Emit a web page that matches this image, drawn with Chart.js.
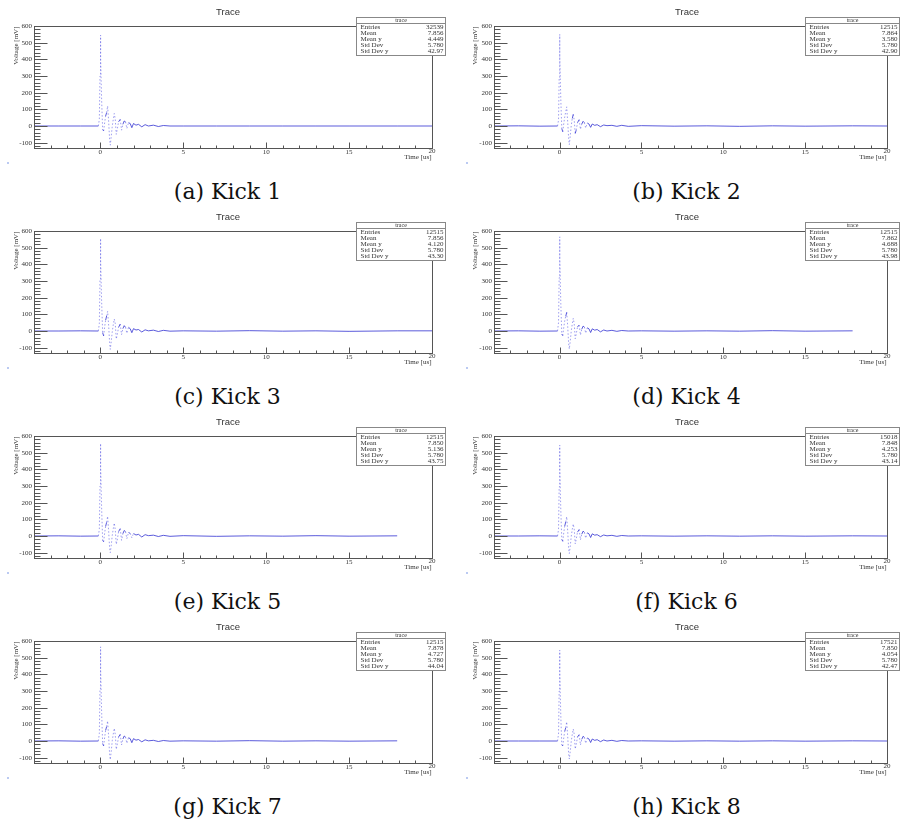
<!DOCTYPE html>
<html>
<head>
<meta charset="utf-8">
<script src="https://cdn.jsdelivr.net/npm/chart.js@4.4.1/dist/chart.umd.min.js"></script>
<style>
  body { margin: 0; background: #fff; width: 902px; height: 821px; position: relative; overflow: hidden; }
  canvas.panel { position: absolute; }
  .caption { position: absolute; width: 455px; text-align: center; font-family: "DejaVu Serif", serif; font-size: 22px; color: #111; line-height: 24px; }
</style>
</head>
<body>
<script>
// sample times [us], shared by all kicks
const time = [-4, -2.5, -1.2, -0.12, -0.06, -0.02, 0, 0.03, 0.08, 0.14, 0.2, 0.26, 0.32, 0.38, 0.44, 0.5,
  0.56, 0.6, 0.66, 0.72, 0.78, 0.84, 0.9, 0.96, 1.02, 1.1, 1.2, 1.28, 1.36, 1.44, 1.52, 1.6, 1.7, 1.8, 1.9,
  2.0, 2.15, 2.3, 2.5, 2.7, 2.9, 3.2, 3.5, 3.8, 4.2, 5, 7, 9, 11, 13, 15, 17.9, 20];

// voltages [mV] per kick
const kick1 = [0, 0, 0, 0, 40, 300, 545, 400, 150, -20, -30, 20, 60, 80, 120, 30, -80, -115, -60, 0, 40, 75, 40, -50, -20,
  25, 40, -25, 10, 30, 25, -15, 20, 15, -10, 15, 5, 10, -5, 8, 0, 5, -3, 3, 0, 0, 0, 0, 0, 0, 0, 0, 0];
const kick2 = [0, 1, -1, 0, 35, 290, 550, 410, 160, -15, -35, 15, 55, 85, 115, 25, -75, -112, -55, 5, 45, 70, 35, -45, -25,
  20, 38, -20, 12, 28, 20, -12, 18, 12, -8, 12, 4, 8, -4, 6, 2, 4, -2, 4, -2, 2, -1, 1, -2, 1, -1, 1, 0];
const kick3 = [0, 0, 1, 0, 45, 310, 555, 420, 170, -10, -30, 25, 65, 90, 118, 35, -70, -110, -60, -5, 38, 72, 45, -48, -22,
  22, 42, -22, 14, 32, 22, -14, 22, 14, -10, 14, 6, 9, -6, 7, 1, 5, -3, 4, -1, 1, -1, 2, -1, 1, -2, 1, 1];
const kick4 = [0, 1, -1, 0, 50, 320, 565, 430, 165, -18, -28, 22, 62, 88, 112, 28, -78, -108, -58, 2, 42, 76, 42, -46, -18,
  24, 36, -24, 11, 29, 24, -13, 19, 13, -9, 13, 5, 9, -5, 6, 0, 4, -2, 3, 0, 1, -1, 1, -1, 2, -1, 1, null];
const kick5 = [0, 1, -1, 0, 40, 300, 555, 415, 160, -25, -35, 18, 58, 82, 118, 32, -72, -100, -55, 4, 44, 78, 38, -50, -24,
  26, 44, -26, 14, 33, 26, -16, 21, 16, -11, 15, 6, 10, -6, 8, 2, 5, -3, 4, -2, 2, -2, 1, -1, 2, -1, 1, null];
const kick6 = [0, 0, 1, 0, 38, 295, 545, 405, 155, -20, -32, 20, 60, 84, 116, 30, -76, -105, -58, 0, 40, 72, 40, -47, -20,
  23, 39, -23, 11, 29, 22, -13, 19, 13, -9, 13, 5, 8, -4, 6, 1, 4, -2, 3, 0, 1, -1, 1, -1, 1, -1, 1, 0];
const kick7 = [0, 1, -1, 0, 45, 315, 565, 425, 165, -15, -30, 22, 64, 86, 120, 28, -80, -112, -60, 2, 42, 76, 40, -50, -22,
  24, 40, -24, 12, 30, 24, -14, 20, 14, -10, 14, 5, 9, -5, 7, 1, 4, -3, 3, -1, 1, -1, 2, -1, 1, -1, 1, null];
const kick8 = [0, 0, 0, 0, 42, 300, 545, 405, 150, -22, -30, 20, 58, 80, 115, 28, -78, -108, -58, 0, 40, 72, 40, -48, -20,
  24, 38, -24, 10, 28, 22, -14, 18, 12, -9, 12, 4, 8, -4, 6, 0, 4, -2, 3, 0, 1, -1, 1, -1, 1, -1, 1, 0];

const kicks = [kick1, kick2, kick3, kick4, kick5, kick6, kick7, kick8];
const captions = ['(a) Kick 1', '(b) Kick 2', '(c) Kick 3', '(d) Kick 4', '(e) Kick 5', '(f) Kick 6', '(g) Kick 7', '(h) Kick 8'];

// stats box contents
const statEntries = ['32539', '12515', '12515', '12515', '12515', '15018', '12515', '17521'];
const statMean = ['7.856', '7.864', '7.856', '7.862', '7.850', '7.848', '7.878', '7.850'];
const statMeanY = ['4.449', '3.580', '4.120', '4.688', '5.136', '4.253', '4.727', '4.054'];
const statStd = ['5.780', '5.780', '5.780', '5.780', '5.780', '5.780', '5.780', '5.780'];
const statStdY = ['42.97', '42.90', '43.30', '43.98', '43.75', '43.14', '44.04', '42.47'];
const statNames = ['Entries', 'Mean', 'Mean y', 'Std Dev', 'Std Dev y'];

const xTicks = [0, 5, 10, 15, 20];
const yTicks = [-100, 0, 100, 200, 300, 400, 500, 600];

const W = 455, H = 170;
const colX = [0, 459];
const rowY = [0, 205, 410, 615];
// per column: y-axis width, right padding, stats box left offset from chart right, box width
const colGeom = [
  { yw: 34, padR: 23, boxOff: 76, boxW: 89 },
  { yw: 35, padR: 27, boxOff: 82, boxW: 94 }
];

const axisColor = '#555';
const textColor = '#333';
const serif = '"Liberation Serif", "Times New Roman", serif';

// ROOT-style frame, inward ticks, titles and stats box
const rootFrame = {
  id: 'rootFrame',
  afterDatasetsDraw(chart, args, opts) {
    const { ctx, chartArea: a, scales: { x, y } } = chart;
    const L = Math.round(a.left) + 0.5, R = Math.round(a.right) + 0.5;
    const T = Math.round(a.top) + 0.5, B = Math.round(a.bottom) + 0.5;
    ctx.save();
    ctx.strokeStyle = axisColor;
    ctx.lineWidth = 1;
    ctx.strokeRect(L, T, R - L, B - T);

    ctx.beginPath();
    for (let v = -120; v <= 600; v += 20) {
      const py = Math.round(y.getPixelForValue(v)) + 0.5;
      const len = v % 100 === 0 ? 13 : 6;
      ctx.moveTo(L, py); ctx.lineTo(L + len, py);
    }
    for (let v = -4; v <= 20; v += 1) {
      const px = Math.round(x.getPixelForValue(v)) + 0.5;
      const len = v % 5 === 0 ? 6 : 3;
      ctx.moveTo(px, B); ctx.lineTo(px, B - len);
    }
    ctx.stroke();

    // x tick labels under the frame
    ctx.fillStyle = textColor;
    ctx.font = '7px ' + serif;
    ctx.textAlign = 'center';
    ctx.textBaseline = 'middle';
    xTicks.forEach(v => {
      const ly = v === 20 ? B + 2.5 : B + 4;
      ctx.fillText(String(v), x.getPixelForValue(v), ly);
    });

    // titles
    ctx.font = '9.5px "Liberation Sans", Arial, sans-serif';
    ctx.fillText('Trace', 228, 12);

    ctx.font = '7px ' + serif;
    ctx.textAlign = 'right';
    ctx.fillText('Time [us]', R - 1, B + 8.5);

    ctx.save();
    ctx.translate(16, T);
    ctx.rotate(-Math.PI / 2);
    ctx.textAlign = 'right';
    ctx.fillText('Voltage [mV]', 0, 0);
    ctx.restore();

    // stats box
    const i = opts.index, g = opts.geom;
    const bx = Math.round(a.right - g.boxOff) + 0.5, by = 17.5, bw = g.boxW, bh = 38;
    ctx.fillStyle = '#fff';
    ctx.fillRect(bx, by, bw, bh);
    ctx.strokeStyle = '#888';
    ctx.strokeRect(bx, by, bw, bh);
    ctx.beginPath();
    ctx.moveTo(bx, by + 6); ctx.lineTo(bx + bw, by + 6);
    ctx.stroke();
    ctx.fillStyle = textColor;
    ctx.font = '6px ' + serif;
    ctx.textAlign = 'center';
    ctx.fillText('trace', bx + bw / 2, by + 3.2);
    const vals = [statEntries[i], statMean[i], statMeanY[i], statStd[i], statStdY[i]];
    ctx.font = '7px ' + serif;
    statNames.forEach((n, k) => {
      const ty = by + 9.8 + k * 5.9;
      ctx.textAlign = 'left';
      ctx.fillText(n, bx + 4, ty);
      ctx.textAlign = 'right';
      ctx.fillText(vals[k], bx + bw - 2, ty);
    });

    // small pad marker in the lower-left corner
    ctx.fillStyle = 'rgba(120,150,230,0.5)';
    ctx.fillRect(7, 162, 2, 2);
    ctx.restore();
  }
};

const steep = c => Math.abs(c.p1.parsed.y - c.p0.parsed.y) > 25;

kicks.forEach((volts, i) => {
  const col = i % 2, row = Math.floor(i / 2);
  const g = colGeom[col];
  const canvas = document.createElement('canvas');
  canvas.className = 'panel';
  canvas.width = W; canvas.height = H;
  canvas.style.left = colX[col] + 'px';
  canvas.style.top = rowY[row] + 'px';
  document.body.appendChild(canvas);

  const cap = document.createElement('div');
  cap.className = 'caption';
  cap.textContent = captions[i];
  cap.style.left = colX[col] + 'px';
  cap.style.top = (rowY[row] + 180) + 'px';
  document.body.appendChild(cap);

  new Chart(canvas, {
    type: 'line',
    data: {
      datasets: [{
        data: time.map((t, k) => ({ x: t, y: volts[k] })),
        borderColor: 'rgba(50,50,210,0.8)',
        borderWidth: 1,
        pointRadius: 0,
        tension: 0,
        spanGaps: false,
        segment: {
          // steep swings render faint and broken
          borderDash: c => steep(c) ? [1.5, 2] : undefined,
          borderColor: c => steep(c) ? 'rgba(80,80,225,0.55)' : undefined
        }
      }]
    },
    options: {
      responsive: false,
      animation: false,
      events: [],
      layout: { padding: { left: 0, top: 26, right: g.padR, bottom: 10 } },
      plugins: {
        legend: { display: false },
        tooltip: { enabled: false },
        rootFrame: { index: i, geom: g }
      },
      scales: {
        x: {
          type: 'linear', min: -4, max: 20,
          afterBuildTicks: s => { s.ticks = xTicks.map(v => ({ value: v })); },
          afterFit: s => { s.height = 12; },
          grid: { display: false, drawTicks: false },
          border: { display: false },
          ticks: { display: false }
        },
        y: {
          type: 'linear', min: -132, max: 600,
          afterBuildTicks: s => { s.ticks = yTicks.map(v => ({ value: v })); },
          afterFit: s => { s.width = g.yw; },
          grid: { display: false, drawTicks: false },
          border: { display: false },
          ticks: { padding: 2, color: textColor, font: { family: serif, size: 7 } }
        }
      }
    },
    plugins: [rootFrame]
  });
});
</script>
</body>
</html>
